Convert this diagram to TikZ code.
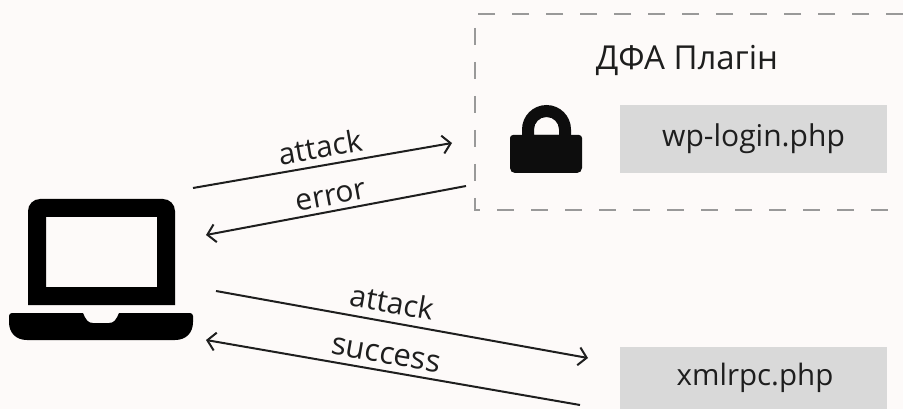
\documentclass[tikz,border=0pt]{standalone}
\usepackage{fontspec}
\setmainfont{Open Sans}
\usetikzlibrary{arrows.meta}
\definecolor{bgc}{HTML}{FDFAF9}
\definecolor{boxc}{HTML}{D9D9D9}
\definecolor{dashc}{HTML}{999999}
\definecolor{ink}{HTML}{1E1E1E}
\tikzset{
  conn/.style={draw=ink,line width=2pt,-{Straight Barb[length=8pt,width=18pt,line width=2pt]}},
  lbl/.style={text=ink,font=\fontsize{30}{34}\selectfont,inner sep=0pt,anchor=center},
  filebox/.style={fill=boxc,draw=none,inner sep=0pt,text=ink,font=\fontsize{30}{34}\selectfont},
  frame/.style={draw=dashc,line width=1.5pt,dash pattern=on 17pt off 17pt},
}
\begin{document}
\begin{tikzpicture}[x=1pt,y=-1pt]
\useasboundingbox (0,0) rectangle (903,409);
\fill[bgc] (0,0) rectangle (903,409);
% dashed frame
\draw[frame] (903,14) -- (475,14) -- (475,210) -- (903,210);
\node[lbl,font=\fontsize{33}{37}\selectfont] (title) at (687,60) {ДФА Плагін};
% file boxes
\node[filebox,minimum width=267pt,minimum height=68pt] (wp) at (753.5,139) {wp-login.php};
\fill[boxc] (620,347) rectangle (887,409);
\node[text=ink,font=\fontsize{29.5}{34}\selectfont,inner sep=0pt] (xml) at (755,378) {xmlrpc.php};
% lock
\fill[black!95] (513,135) -- (579,135) arc[start angle=-90,end angle=0,radius=3] -- (582,168) arc[start angle=0,end angle=90,radius=5] -- (515,173) arc[start angle=90,end angle=180,radius=5] -- (510,138) arc[start angle=180,end angle=270,radius=3] -- cycle;
\fill[black!95,even odd rule] (522,136) -- (522,129.5) arc[start angle=180,end angle=360,radius=24.5] -- (571,136) -- cycle
  (534,135) -- (559,135) -- (559,129.5) arc[start angle=0,end angle=-180,radius=12.5] -- cycle;
% laptop
\fill[black,even odd rule] (28,305) -- (28,211) arc[start angle=180,end angle=270,radius=12] -- (163,199) arc[start angle=270,end angle=360,radius=12] -- (175,305) -- cycle
  (46,217) rectangle (157,287);
\fill[black] (12,313) -- (83,313) .. controls (86,320) and (88,323) .. (93,323) -- (109,323) .. controls (114,323) and (116,320) .. (119,313) -- (190,313) arc[start angle=-90,end angle=0,radius=3] -- (193,322) .. controls (193,333) and (186,340) .. (175,340) -- (27,340) .. controls (16,340) and (9,333) .. (9,322) -- (9,316) arc[start angle=180,end angle=270,radius=3] -- cycle;
% connector ends
\coordinate (a1s) at (193,188); \coordinate (a1e) at (452,143);
\coordinate (e1s) at (466,186); \coordinate (e1e) at (206,235);
\coordinate (a2s) at (216,291); \coordinate (a2e) at (588,358);
\coordinate (s2s) at (580,405); \coordinate (s2e) at (206,340);
\draw[conn] (a1s) -- (a1e);
\draw[conn] (e1s) -- (e1e);
\draw[conn] (a2s) -- (a2e);
\draw[conn] (s2s) -- (s2e);
\node[lbl,rotate=10] (la1) at (320,147) {attack};
\node[lbl,rotate=10.7] (le1) at (331,197) {error};
\node[lbl,rotate=-10] (la2) at (392,302) {attack};
\node[lbl,rotate=-10,font=\fontsize{31}{35}\selectfont] (ls2) at (386,355) {success};
\end{tikzpicture}
\end{document}
